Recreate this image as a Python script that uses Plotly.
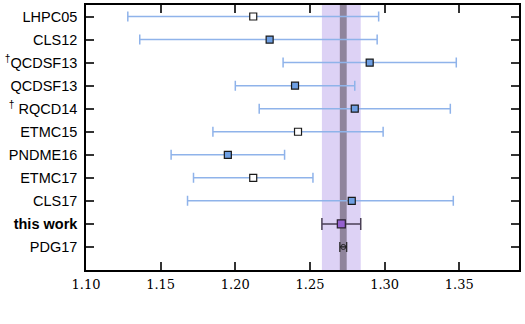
import plotly.graph_objects as go

labels = ["LHPC05", "CLS12", "<sup>†</sup>QCDSF13", "QCDSF13", "<sup>†</sup> RQCD14",
          "ETMC15", "PNDME16", "ETMC17", "CLS17", "<b>this work</b>", "PDG17"]
values = [1.212, 1.223, 1.290, 1.240, 1.280, 1.242, 1.195, 1.212, 1.278, 1.271, 1.2723]
err_plus = [0.084, 0.072, 0.058, 0.040, 0.064, 0.057, 0.038, 0.040, 0.068, 0.013, 0.0023]
err_minus = [0.084, 0.087, 0.058, 0.040, 0.064, 0.057, 0.038, 0.040, 0.110, 0.013, 0.0023]
open_marker = [True, False, False, False, False, True, False, True, False, False, False]
xticks = [1.10, 1.15, 1.20, 1.25, 1.30, 1.35]

fig = go.Figure()

# bands from this work and PDG17
tw = 9
pdg = 10
fig.add_shape(type="rect", xref="x", yref="paper",
              x0=values[tw] - err_minus[tw], x1=values[tw] + err_plus[tw], y0=0, y1=1,
              fillcolor="#ddd2f5", line_width=0, layer="below")
fig.add_shape(type="rect", xref="x", yref="paper",
              x0=values[pdg] - err_minus[pdg], x1=values[pdg] + err_plus[pdg], y0=0, y1=1,
              fillcolor="#8f849c", line_width=0, layer="below")

lit = list(range(9))
for group, sym_fill in [([i for i in lit if not open_marker[i]], "#6e9fe3"),
                        ([i for i in lit if open_marker[i]], "white")]:
    fig.add_trace(go.Scatter(
        x=[values[i] for i in group], y=group, mode="markers",
        marker=dict(symbol="square", size=7, color=sym_fill,
                    line=dict(color="#1a1a1a", width=1.2)),
        error_x=dict(type="data", symmetric=False,
                     array=[err_plus[i] for i in group],
                     arrayminus=[err_minus[i] for i in group],
                     color="#8fb3ea", thickness=1.5, width=5),
        showlegend=False))

fig.add_trace(go.Scatter(
    x=[values[tw]], y=[tw], mode="markers",
    marker=dict(symbol="square", size=8, color="#9560cf",
                line=dict(color="#2a2030", width=1.2)),
    error_x=dict(type="data", symmetric=False, array=[err_plus[tw]], arrayminus=[err_minus[tw]],
                 color="#4a3f55", thickness=1.5, width=6),
    showlegend=False))

fig.add_trace(go.Scatter(
    x=[values[pdg]], y=[pdg], mode="markers",
    marker=dict(symbol="circle-open", size=5, color="#222222", line=dict(width=1)),
    error_x=dict(type="data", symmetric=False, array=[err_plus[pdg]], arrayminus=[err_minus[pdg]],
                 color="#222222", thickness=1.2, width=5),
    showlegend=False))

fig.update_layout(
    width=525, height=324,
    margin=dict(l=86, r=6, t=3, b=54),
    paper_bgcolor="white", plot_bgcolor="white",
    xaxis=dict(range=[1.10, 1.39], tickvals=xticks,
               ticktext=[f"{t:.2f}" for t in xticks],
               ticks="inside", ticklen=8, tickwidth=1.5, tickcolor="#333333",
               showline=True, linecolor="black", linewidth=1.5, mirror="ticks",
               showgrid=False, zeroline=False,
               tickfont=dict(family="DejaVu Serif", size=13, color="black"),
               ticklabelstandoff=2),
    yaxis=dict(range=[11, -0.5], tickvals=list(range(len(labels))), ticktext=labels,
               ticks="inside", ticklen=8, tickwidth=1.5, tickcolor="#333333",
               showline=True, linecolor="black", linewidth=1.5, mirror="ticks",
               showgrid=False, zeroline=False,
               tickfont=dict(family="Liberation Sans", size=14.5, color="black"),
               ticklabelstandoff=4),
)

fig.write_html("out.html")
